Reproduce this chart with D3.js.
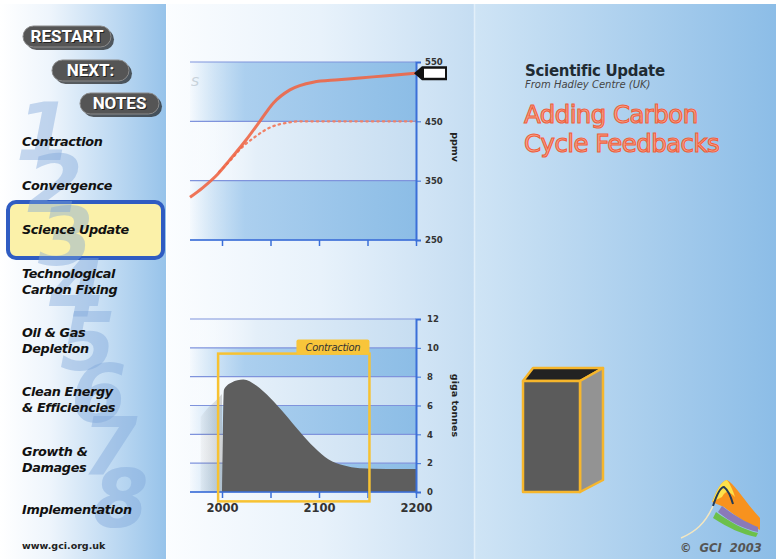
<!DOCTYPE html>
<html>
<head>
<meta charset="utf-8">
<script src="https://cdn.jsdelivr.net/npm/d3@7"></script>
<style>
  html, body { margin: 0; padding: 0; background: #fff; }
  svg { display: block; }
  .axis path, .axis line { stroke: #3a6fd8; }
  .axis text { fill: #333; font-family: "DejaVu Sans", sans-serif; font-weight: bold; }
</style>
</head>
<body>
<div id="chart"></div>
<script>
// ---- data ----
// CO2 concentration (ppmv), with and without carbon cycle feedbacks
const co2Years = [1967, 1980, 1995, 2008, 2025, 2039, 2053, 2070, 2094, 2120, 2142, 2170, 2200]
const co2Feedback = [322, 338, 360, 385, 419, 450, 481, 503, 516, 520, 523, 527, 531]
const noFbYears = [1997, 2008, 2020, 2035, 2050, 2065, 2080, 2120, 2160, 2200]
const co2NoFeedback = [365, 383, 405, 425, 440, 447, 450, 450, 450, 450]
const ppmTicks = [250, 350, 450, 550]

// emissions (giga tonnes carbon)
const emYears = [2000, 2002, 2010, 2022, 2035, 2050, 2065, 2080, 2095, 2110, 2125, 2142, 2170, 2200]
const emissions = [0, 7.1, 7.6, 7.8, 7.4, 6.5, 5.4, 4.2, 3.1, 2.25, 1.85, 1.65, 1.6, 1.6]
const emHistYears = [1978, 1985, 1993, 2000]
const emHistory = [5.2, 5.8, 6.3, 6.8]
const gtTicks = [0, 2, 4, 6, 8, 10, 12]
const yearTicks = [2000, 2050, 2100, 2150, 2200]
const yearLabels = [2000, 2100, 2200]
const contractionYears = [1996, 2152]
const contractionLevels = [-0.65, 9.6]

// page text
const buttons = ["RESTART", "NEXT:", "NOTES"]
const menu = [
  ["Contraction"], ["Convergence"], ["Science Update"],
  ["Technological", "Carbon Fixing"], ["Oil & Gas", "Depletion"],
  ["Clean Energy", "& Efficiencies"], ["Growth &", "Damages"], ["Implementation"]
]
const stepDigits = ["1", "2", "3", "4", "5", "6", "7", "8"]

const W = 776, H = 559
const svg = d3.select("#chart").append("svg").attr("width", W).attr("height", H)
const defs = svg.append("defs")

function hGrad(id, x1, x2, stops) {
  const g = defs.append("linearGradient").attr("id", id)
    .attr("gradientUnits", "userSpaceOnUse")
    .attr("x1", x1).attr("x2", x2).attr("y1", 0).attr("y2", 0)
  stops.forEach(s => g.append("stop").attr("offset", s[0]).attr("stop-color", s[1]).attr("stop-opacity", s[2] == null ? 1 : s[2]))
}
hGrad("leftBg", 0, 166, [[0, "#ffffff"], [0.3, "#eef5fc"], [1, "#97c3ea"]])
hGrad("midBg", 167, 474, [[0, "#fbfdff"], [0.5, "#e8f2fb"], [1, "#c5ddf2"]])
hGrad("rightBg", 475, 776, [[0, "#cfe4f5"], [1, "#8cbde7"]])
hGrad("darkBand", 188, 416, [[0, "#8fbfe8", 0], [0.25, "#9fc8ec", 0.85], [1, "#8cbde6"]])
hGrad("lightBand", 188, 416, [[0, "#ffffff", 0], [0.3, "#e4eff9"], [1, "#c6ddf1"]])
hGrad("ghost", 195, 222, [[0, "#777", 0], [1, "#777", 0.3]])

// backgrounds
svg.append("rect").attr("width", W).attr("height", H).attr("fill", "#fff")
svg.append("rect").attr("x", 0).attr("y", 4).attr("width", 166).attr("height", H - 4).attr("fill", "url(#leftBg)")
svg.append("rect").attr("x", 167).attr("y", 4).attr("width", 308).attr("height", H - 4).attr("fill", "url(#midBg)")
svg.append("rect").attr("x", 475).attr("y", 4).attr("width", 301).attr("height", H - 4).attr("fill", "url(#rightBg)")
svg.append("line").attr("x1", 474.5).attr("x2", 474.5).attr("y1", 4).attr("y2", H).attr("stroke", "#e2eff9").attr("stroke-width", 1.5)

// ---- left navigation panel ----
const nav = svg.append("g")

// highlight of the current step (the big step digits sit over it)
nav.append("rect").attr("x", 8).attr("y", 202).attr("width", 155).attr("height", 56).attr("rx", 8)
  .attr("fill", "#fbf1a9").attr("stroke", "#2f5cc2").attr("stroke-width", 4)

nav.selectAll("text.digit").data(stepDigits).join("text")
  .attr("class", "digit")
  .attr("x", (d, i) => 16 + i * 11)
  .attr("y", (d, i) => 160 + i * 52.4)
  .attr("font-family", "DejaVu Sans, sans-serif")
  .attr("font-weight", "bold").attr("font-style", "italic")
  .attr("font-size", 80)
  .attr("fill", "#7ea6da").attr("opacity", 0.42)
  .text(d => d)

const btnBox = [[23, 26, 88], [52, 60, 77], [80, 93, 79]]
buttons.forEach((b, i) => {
  const [bx, by, bw] = btnBox[i]
  const g = nav.append("g")
  g.append("rect").attr("x", bx + 3).attr("y", by + 3).attr("width", bw).attr("height", 21).attr("rx", 10.5).attr("fill", "#1e1e1e").attr("opacity", 0.7)
  g.append("rect").attr("x", bx).attr("y", by).attr("width", bw).attr("height", 21).attr("rx", 10.5).attr("fill", "#555").attr("stroke", "#8a8a8a").attr("stroke-width", 1)
  g.append("text").attr("x", bx + bw / 2 + 1).attr("y", by + 17).attr("text-anchor", "middle")
    .attr("font-family", "Roboto, sans-serif").attr("font-weight", "bold").attr("font-size", 17)
    .attr("fill", "#222").text(b)
  g.append("text").attr("x", bx + bw / 2).attr("y", by + 16).attr("text-anchor", "middle")
    .attr("font-family", "Roboto, sans-serif").attr("font-weight", "bold").attr("font-size", 17)
    .attr("fill", "#fff").text(b)
})

const menuY = [146, 190, 234, 278, 337, 396, 456, 514]
menu.forEach((lines, i) => {
  lines.forEach((t, j) => {
    nav.append("text").attr("x", 22).attr("y", menuY[i] + j * 16)
      .attr("font-family", "DejaVu Sans, sans-serif").attr("font-weight", "bold").attr("font-style", "italic")
      .attr("font-size", 12.8).attr("letter-spacing", -0.35)
      .attr("fill", "#111").text(t)
  })
})
nav.append("text").attr("x", 22).attr("y", 549)
  .attr("font-family", "DejaVu Sans, sans-serif").attr("font-weight", "bold")
  .attr("font-size", 9.5).attr("fill", "#222").text("www.gci.org.uk")

// ---- scales ----
const x = d3.scaleLinear().domain([2000, 2200]).range([222, 416])
const plotLeft = x(1967)
const yTop = d3.scaleLinear().domain([250, 550]).range([240, 62])
const yBot = d3.scaleLinear().domain([0, 12]).range([492, 319])

// ---- top chart: CO2 concentration ----
const topChart = svg.append("g")
d3.pairs(ppmTicks).forEach((p, i) => {
  topChart.append("rect").attr("x", plotLeft).attr("y", yTop(p[1]))
    .attr("width", x(2200) - plotLeft).attr("height", yTop(p[0]) - yTop(p[1]))
    .attr("fill", i % 2 === 0 ? "url(#darkBand)" : "url(#lightBand)")
})
topChart.selectAll("line.grid").data(ppmTicks).join("line").attr("class", "grid")
  .attr("x1", plotLeft).attr("x2", x(2200)).attr("y1", d => yTop(d)).attr("y2", d => yTop(d))
  .attr("stroke", "#7f93dc").attr("stroke-width", 1.2)
topChart.append("text").attr("x", 191).attr("y", 86).attr("font-family", "DejaVu Sans, sans-serif")
  .attr("font-style", "italic").attr("font-size", 13).attr("fill", "#b8c4cc").attr("opacity", 0.7).text("S")

const noFb = co2NoFeedback.map((v, i) => [noFbYears[i], v])
topChart.append("path").datum(noFb)
  .attr("fill", "none").attr("stroke", "#f08268").attr("stroke-width", 2.2)
  .attr("stroke-dasharray", "1.5,4").attr("stroke-linecap", "round")
  .attr("d", d3.line().x(d => x(d[0])).y(d => yTop(d[1])).curve(d3.curveMonotoneX))

const fb = co2Feedback.map((v, i) => [co2Years[i], v])
topChart.append("path").datum(fb)
  .attr("fill", "none").attr("stroke", "#ee6646").attr("stroke-width", 3).attr("opacity", 0.9)
  .attr("d", d3.line().x(d => x(d[0])).y(d => yTop(d[1])).curve(d3.curveMonotoneX))

const topY = topChart.append("g").attr("class", "axis").attr("transform", `translate(${x(2200)},0)`)
  .call(d3.axisRight(yTop).tickValues(ppmTicks).tickSize(5).tickPadding(4))
topY.select(".domain").attr("stroke-width", 2)
topY.selectAll("text").attr("font-size", 8.5)
const topX = topChart.append("g").attr("class", "axis").attr("transform", `translate(0,${yTop(250)})`)
  .call(d3.axisBottom(x).tickValues(yearTicks).tickSize(6).tickFormat(""))
topX.select(".domain").attr("d", `M${plotLeft},0H${x(2200)}`).attr("stroke-width", 1.5)
topX.selectAll("line").attr("stroke-width", 1.5)

// end marker
const lastV = co2Feedback[co2Feedback.length - 1]
const my = yTop(lastV)
topChart.append("path")
  .attr("d", `M${x(2200) - 2},${my} L${x(2200) + 6},${my - 7} H${x(2200) + 31} V${my + 7} H${x(2200) + 6} Z`)
  .attr("fill", "#111")
topChart.append("rect").attr("x", x(2200) + 8).attr("y", my - 4.5).attr("width", 21).attr("height", 9).attr("fill", "#fff")

topChart.append("text").attr("transform", `translate(452,${(yTop(550) + yTop(250)) / 2 - 4}) rotate(90)`)
  .attr("text-anchor", "middle").attr("font-family", "DejaVu Sans, sans-serif")
  .attr("font-weight", "bold").attr("font-size", 9.5).attr("fill", "#222").text("ppmv")

// ---- bottom chart: emissions ----
const bot = svg.append("g")
d3.pairs(gtTicks).forEach((p, i) => {
  bot.append("rect").attr("x", plotLeft).attr("y", yBot(p[1]))
    .attr("width", x(2200) - plotLeft).attr("height", yBot(p[0]) - yBot(p[1]))
    .attr("fill", i % 2 === 0 ? "url(#darkBand)" : "url(#lightBand)")
})
bot.selectAll("line.grid").data(gtTicks).join("line").attr("class", "grid")
  .attr("x1", plotLeft).attr("x2", x(2200)).attr("y1", d => yBot(d)).attr("y2", d => yBot(d))
  .attr("stroke", "#7f93dc").attr("stroke-width", 1.2)

const hist = emHistory.map((v, i) => [emHistYears[i], v])
bot.append("path").datum(hist).attr("fill", "url(#ghost)")
  .attr("d", d3.area().x(d => x(d[0])).y0(yBot(0)).y1(d => yBot(d[1])).curve(d3.curveMonotoneX))

const em = emissions.map((v, i) => [emYears[i], v])
bot.append("path").datum(em).attr("fill", "#5e5e5e")
  .attr("d", d3.area().x(d => x(d[0])).y0(yBot(0)).y1(d => yBot(d[1])).curve(d3.curveMonotoneX))

const botY = bot.append("g").attr("class", "axis").attr("transform", `translate(${x(2200)},0)`)
  .call(d3.axisRight(yBot).tickValues(gtTicks).tickSize(5).tickPadding(6))
botY.select(".domain").attr("stroke-width", 2)
botY.selectAll("text").attr("font-size", 8.5)
const botX = bot.append("g").attr("class", "axis").attr("transform", `translate(0,${yBot(0)})`)
  .call(d3.axisBottom(x).tickValues(yearTicks).tickSize(6).tickPadding(6)
    .tickFormat(d => yearLabels.includes(d) ? d : ""))
botX.select(".domain").attr("d", `M${plotLeft},0H${x(2200)}`).attr("stroke-width", 1.5)
botX.selectAll("line").attr("stroke-width", 1.5)
botX.selectAll("text").attr("font-size", 11.5).attr("fill", "#3a3a3a")

bot.append("text").attr("transform", `translate(452,${(yBot(0) + yBot(12)) / 2}) rotate(90)`)
  .attr("text-anchor", "middle").attr("font-family", "DejaVu Sans, sans-serif")
  .attr("font-weight", "bold").attr("font-size", 9.5).attr("fill", "#222").text("giga tonnes")

// contraction frame
const cx0 = x(contractionYears[0]), cx1 = x(contractionYears[1])
const cy0 = yBot(contractionLevels[1]), cy1 = yBot(contractionLevels[0])
bot.append("rect").attr("x", cx0).attr("y", cy0).attr("width", cx1 - cx0).attr("height", cy1 - cy0)
  .attr("fill", "none").attr("stroke", "#f7c232").attr("stroke-width", 2.5)
bot.append("rect").attr("x", cx1 - 73).attr("y", cy0 - 14).attr("width", 73).attr("height", 15)
  .attr("rx", 2).attr("fill", "#f8c53a")
bot.append("text").attr("x", cx1 - 36.5).attr("y", cy0 - 3).attr("text-anchor", "middle")
  .attr("font-family", "DejaVu Sans, sans-serif").attr("font-style", "italic")
  .attr("font-size", 10).attr("letter-spacing", -0.3).attr("fill", "#333").text("Contraction")

// ---- right panel ----
const rp = svg.append("g")
rp.append("text").attr("x", 525).attr("y", 76).attr("font-family", "DejaVu Sans, sans-serif")
  .attr("font-weight", "bold").attr("font-size", 15).attr("letter-spacing", -0.3)
  .attr("fill", "#1f2b33").text("Scientific Update")
rp.append("text").attr("x", 525).attr("y", 88).attr("font-family", "DejaVu Sans, sans-serif")
  .attr("font-style", "italic").attr("font-size", 10)
  .attr("fill", "#444").text("From Hadley Centre (UK)")
rp.selectAll("text.title").data(["Adding Carbon", "Cycle Feedbacks"]).join("text")
  .attr("class", "title").attr("x", 524).attr("y", (d, i) => 123 + i * 29)
  .attr("font-family", "DejaVu Sans, sans-serif").attr("font-size", 24.5).attr("letter-spacing", -0.6)
  .attr("fill", "#f7a58c").attr("stroke", "#ef5f3c").attr("stroke-width", 1.1)
  .text(d => d)

// 3D block
const blk = rp.append("g").attr("stroke", "#f6b62c").attr("stroke-width", 2.5).attr("stroke-linejoin", "round")
blk.append("path").attr("d", "M523,381 L533,368 H603 L580,381 Z").attr("fill", "#222")
blk.append("path").attr("d", "M580,381 L603,368 V480 L580,492 Z").attr("fill", "#939393")
blk.append("rect").attr("x", 523).attr("y", 381).attr("width", 57).attr("height", 111).attr("fill", "#5b5b5b")

// logo
const logo = rp.append("g")
logo.append("path").attr("d", "M712,502 C717,490 721,481 727,480 C735,484 745,502 760,518 L760,530 C748,524 735,516 724,507 Z")
  .attr("fill", "#f7921e")
logo.append("path").attr("d", "M712,502 C717,490 721,481 727,480 C730,484 733,490 735,497 C730,492 726,489 722,497 Z")
  .attr("fill", "#fde14a")
logo.append("path").attr("d", "M722,506 C732,514 745,522 758,527 L758,532 C744,529 730,522 718,512 Z").attr("fill", "#8a7ab8")
logo.append("path").attr("d", "M716,512 C730,522 744,530 758,533 L756,537 C742,534 728,528 713,518 Z").attr("fill", "#6cc04a")
logo.append("path").attr("d", "M713,506 C717,494 721,487 724,487 C728,490 731,497 733,504")
  .attr("fill", "none").attr("stroke", "#243a55").attr("stroke-width", 2)
logo.append("path").attr("d", "M681,538 C695,532 705,524 713,506").attr("fill", "none").attr("stroke", "#f3e6c0").attr("stroke-width", 1.5)
rp.append("text").attr("x", 680).attr("y", 552).attr("font-family", "DejaVu Sans, sans-serif")
  .attr("font-weight", "bold").attr("font-style", "italic").attr("font-size", 11.5)
  .attr("fill", "#555").attr("xml:space", "preserve").text("©  GCI  2003")
</script>
</body>
</html>
